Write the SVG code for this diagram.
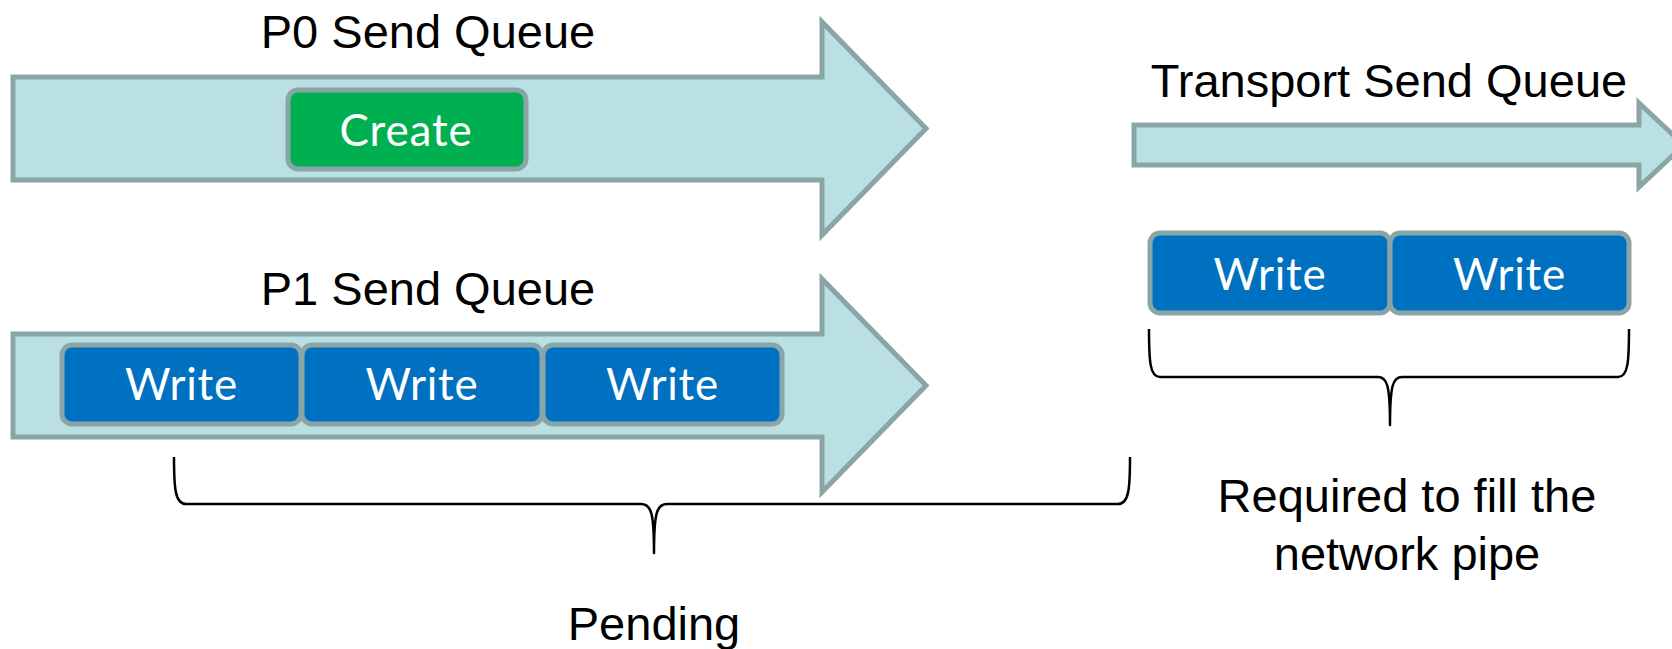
<svg xmlns="http://www.w3.org/2000/svg" width="1672" height="649" viewBox="0 0 1672 649">
<style>
.arrow{fill:#bae0e2;stroke:#8aa5a7;stroke-width:5;stroke-linejoin:miter}
.box{stroke:#8aa5a7;stroke-width:5}
.blue{fill:#0070c0}
.green{fill:#00b050}
.lbl{font-family:Lato,"Open Sans",sans-serif;font-size:44px;letter-spacing:0.8px;fill:#ffffff;text-anchor:middle}
.title{font-family:"Liberation Sans",Arial,sans-serif;font-size:47px;fill:#000000;text-anchor:middle}
.brace{fill:none;stroke:#000000;stroke-width:2.5;stroke-linejoin:round}
</style>
<g id="p0-queue">
<polygon class="arrow" points="13,77 822,77 822,22 926,128.5 822,235 822,180 13,180"/>
<text class="title" x="428" y="48">P0 Send Queue</text>
</g>
<g id="p1-queue">
<polygon class="arrow" points="13,334 822,334 822,279 926,385.5 822,492 822,437 13,437"/>
<text class="title" x="428" y="305">P1 Send Queue</text>
</g>
<g id="transport-queue">
<polygon class="arrow" points="1134,125 1639,125 1639,103 1684,145 1639,187 1639,165 1134,165"/>
<text class="title" x="1389" y="97">Transport Send Queue</text>
</g>
<g id="create">
<rect class="box green" x="288" y="90" width="238" height="79" rx="10"/>
<text class="lbl" x="406" y="146">Create</text>
</g>
<g id="p1-write-1">
<rect class="box blue" x="62" y="345" width="239" height="79" rx="10"/>
<text class="lbl" x="181.5" y="400">Write</text>
</g>
<g id="p1-write-2">
<rect class="box blue" x="302" y="345" width="240" height="79" rx="10"/>
<text class="lbl" x="422" y="400">Write</text>
</g>
<g id="p1-write-3">
<rect class="box blue" x="543" y="345" width="239" height="79" rx="10"/>
<text class="lbl" x="662.5" y="400">Write</text>
</g>
<g id="t-write-1">
<rect class="box blue" x="1150" y="233" width="240" height="80" rx="10"/>
<text class="lbl" x="1270" y="290">Write</text>
</g>
<g id="t-write-2">
<rect class="box blue" x="1390" y="233" width="239" height="80" rx="10"/>
<text class="lbl" x="1509.5" y="290">Write</text>
</g>
<g id="connectors">
<path class="brace" d="M174,457 C174,488 175,504 186,504 L641,504 C651,504 654,512 654,553 C654,512 657,504 667,504 L1118,504 C1129,504 1130,488 1130,457"/>
<path class="brace" d="M1149,329 C1149,362 1150,377 1160,377 L1378,377 C1387,377 1390,385 1390,425 C1390,385 1393,377 1402,377 L1618,377 C1628,377 1629,362 1629,329"/>
</g>
<g id="pending-label">
<text class="title" x="654" y="640">Pending</text>
</g>
<g id="required-label">
<text class="title" x="1407" y="512">Required to fill the</text>
<text class="title" x="1407" y="570">network pipe</text>
</g>
</svg>
